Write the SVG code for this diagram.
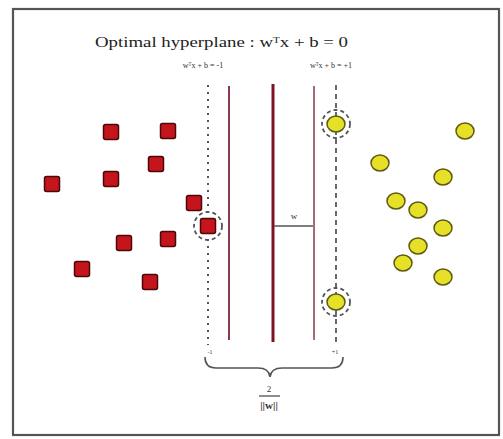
<svg xmlns="http://www.w3.org/2000/svg" width="503" height="439" viewBox="0 0 503 439">
<defs>
<style>
.txt{font-family:"Liberation Serif","Times New Roman",serif;fill:#333}
.sq{fill:#c4141c;stroke:#4a0808;stroke-width:1.5}
.ci{fill:#e6e028;stroke:#5e5a12;stroke-width:1.5}
.sv{fill:none;stroke:#555;stroke-width:1.8;stroke-dasharray:4 3}
.mdash{fill:none;stroke:#555;stroke-width:1.6}
</style>
<rect id="sqr" x="-7.5" y="-7.5" width="15" height="15" rx="2"/>
</defs>
<rect x="0" y="0" width="503" height="439" fill="#fff"/>
<rect x="13" y="9" width="486" height="426" fill="#fff" stroke="#555" stroke-width="2.2"/>
<text class="txt" x="95" y="47" font-size="15" fill="#222" textLength="253" lengthAdjust="spacingAndGlyphs" style="fill:#222">Optimal hyperplane : wᵀx + b = 0</text>
<text class="txt" x="203" y="68" font-size="8" text-anchor="middle">wᵀx + b = -1</text>
<text class="txt" x="331" y="68" font-size="8" text-anchor="middle">wᵀx + b = +1</text>
<g id="connectors">
<line x1="208" y1="85" x2="208" y2="345" stroke="#555" stroke-width="2" stroke-dasharray="2 5"/>
<line x1="336" y1="85" x2="336" y2="345" stroke="#444" stroke-width="1.6" stroke-dasharray="5 4"/>
<line x1="229" y1="86" x2="229" y2="340" stroke="#8a3a48" stroke-width="2"/>
<line x1="273" y1="84" x2="273" y2="342" stroke="#7e1422" stroke-width="3"/>
<line x1="314" y1="86" x2="314" y2="340" stroke="#a86a74" stroke-width="2"/>
<line x1="274" y1="226" x2="313" y2="226" stroke="#555" stroke-width="1.6"/>
<path class="mdash" d="M205,357 Q205,368 216,368 L258,368 Q269,368 270,377 Q271,368 282,368 L332,368 Q343,368 343,357"/>
</g>
<text class="txt" x="294" y="219" font-size="9" text-anchor="middle">w</text>
<text class="txt" x="210" y="354" font-size="6" text-anchor="middle">-1</text>
<text class="txt" x="335" y="354" font-size="6" text-anchor="middle">+1</text>
<text class="txt" x="269" y="392" font-size="9" text-anchor="middle">2</text>
<line x1="259" y1="396" x2="280" y2="396" stroke="#444" stroke-width="1.2"/>
<text class="txt" x="269" y="409" font-size="11" text-anchor="middle" font-weight="bold">||w||</text>
<g id="red-squares">
<use href="#sqr" class="sq" x="111" y="132"/>
<use href="#sqr" class="sq" x="168" y="131"/>
<use href="#sqr" class="sq" x="156" y="164"/>
<use href="#sqr" class="sq" x="52" y="184"/>
<use href="#sqr" class="sq" x="111" y="179"/>
<use href="#sqr" class="sq" x="194" y="203"/>
<use href="#sqr" class="sq" x="208" y="226"/>
<use href="#sqr" class="sq" x="124" y="243"/>
<use href="#sqr" class="sq" x="168" y="239"/>
<use href="#sqr" class="sq" x="82" y="269"/>
<use href="#sqr" class="sq" x="150" y="282"/>
</g>
<g id="yellow-circles">
<ellipse class="ci" cx="336" cy="124" rx="9" ry="8"/>
<ellipse class="ci" cx="465" cy="131" rx="9" ry="8"/>
<ellipse class="ci" cx="380" cy="163" rx="9" ry="8"/>
<ellipse class="ci" cx="443" cy="177" rx="9" ry="8"/>
<ellipse class="ci" cx="396" cy="201" rx="9" ry="8"/>
<ellipse class="ci" cx="418" cy="210" rx="9" ry="8"/>
<ellipse class="ci" cx="443" cy="228" rx="9" ry="8"/>
<ellipse class="ci" cx="418" cy="246" rx="9" ry="8"/>
<ellipse class="ci" cx="403" cy="263" rx="9" ry="8"/>
<ellipse class="ci" cx="443" cy="277" rx="9" ry="8"/>
<ellipse class="ci" cx="336" cy="302" rx="9" ry="8"/>
</g>
<g id="support-vectors">
<circle class="sv" cx="208" cy="226" r="14"/>
<circle class="sv" cx="336" cy="124" r="14"/>
<circle class="sv" cx="336" cy="302" r="14"/>
</g>
</svg>
